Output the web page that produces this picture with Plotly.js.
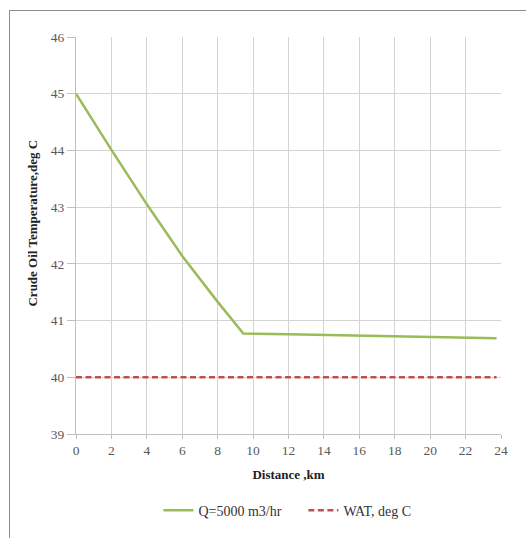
<!DOCTYPE html>
<html>
<head>
<meta charset="utf-8">
<script src="https://cdn.plot.ly/plotly-3.0.1.min.js"></script>
<style>
  html, body { margin: 0; padding: 0; background: #fff; }
  #wrap { position: relative; width: 526px; height: 538px; }
  #chart { position: absolute; left: 0; top: 0; width: 526px; height: 538px; }
  /* chart frame: only its left and top edges fall inside the window */
  #frame { position: absolute; left: 9px; top: 10px; width: 530px; height: 540px;
           border-left: 1px solid #8c8c8c; border-top: 1px solid #8c8c8c;
           pointer-events: none; }
</style>
</head>
<body>
<div id="wrap">
  <div id="chart"></div>
  <div id="frame"></div>
</div>
<script>
// Crude oil temperature along the pipeline
const distanceKm = [0, 2, 4, 6, 8, 9.45, 12, 16, 20, 23.75];
const crudeTemp  = [45, 44.01, 43.05, 42.14, 41.33, 40.77, 40.76, 40.74, 40.72, 40.69];

// Wax appearance temperature reference line
const watDistance = [0, 23.75];
const watTemp     = [40, 40];

const xTicks = [0, 2, 4, 6, 8, 10, 12, 14, 16, 18, 20, 22, 24];
const yTicks = [39, 40, 41, 42, 43, 44, 45, 46];

const serif = "'Liberation Serif', 'Times New Roman', serif";

const traces = [
  {
    x: distanceKm, y: crudeTemp, type: 'scatter', mode: 'lines',
    name: 'Q=5000 m3/hr',
    line: { color: '#9BBB59', width: 2.5 }
  },
  {
    x: watDistance, y: watTemp, type: 'scatter', mode: 'lines',
    name: 'WAT, deg C',
    line: { color: '#C0504D', width: 2.5, dash: '6px,3.5px' }
  }
];

const layout = {
  width: 526, height: 538,
  margin: { l: 76, r: 25, t: 37, b: 103 },
  paper_bgcolor: '#fff', plot_bgcolor: '#fff',
  showlegend: true,
  legend: {
    orientation: 'h', x: 0.535, xanchor: 'center', y: -0.19, yanchor: 'middle',
    font: { family: serif, size: 14, color: '#333' },
    entrywidth: 100, tracegroupgap: 0
  },
  xaxis: {
    range: [0, 24], tickvals: xTicks, ticktext: xTicks.map(String),
    showgrid: true, gridcolor: '#d4d4d4', gridwidth: 1,
    showline: true, linecolor: '#bfbfbf', linewidth: 1, mirror: false,
    ticks: 'outside', ticklen: 4, tickcolor: '#bfbfbf',
    zeroline: false, fixedrange: true,
    tickfont: { family: serif, size: 13.5, color: '#595959' },
    title: { text: '<b>Distance ,km</b>', standoff: 12,
             font: { family: serif, size: 13, color: '#222' } }
  },
  yaxis: {
    range: [39, 46], tickvals: yTicks, ticktext: yTicks.map(String),
    showgrid: true, gridcolor: '#d4d4d4', gridwidth: 1,
    showline: true, linecolor: '#bfbfbf', linewidth: 1,
    ticks: 'outside', ticklen: 8, tickcolor: '#bfbfbf',
    zeroline: false, fixedrange: true,
    tickfont: { family: serif, size: 13.5, color: '#595959' },
    title: { text: '' }
  },
  annotations: [
    {
      text: '<b>Crude Oil Temperature,deg C</b>', textangle: -90,
      xref: 'paper', yref: 'paper',
      x: (33 - 76) / 425, y: (435 - 224) / 398,
      xanchor: 'center', yanchor: 'middle', showarrow: false,
      font: { family: serif, size: 13, color: '#222' }
    }
  ]
};

Plotly.newPlot('chart', traces, layout, { staticPlot: true, displayModeBar: false });
</script>
</body>
</html>
